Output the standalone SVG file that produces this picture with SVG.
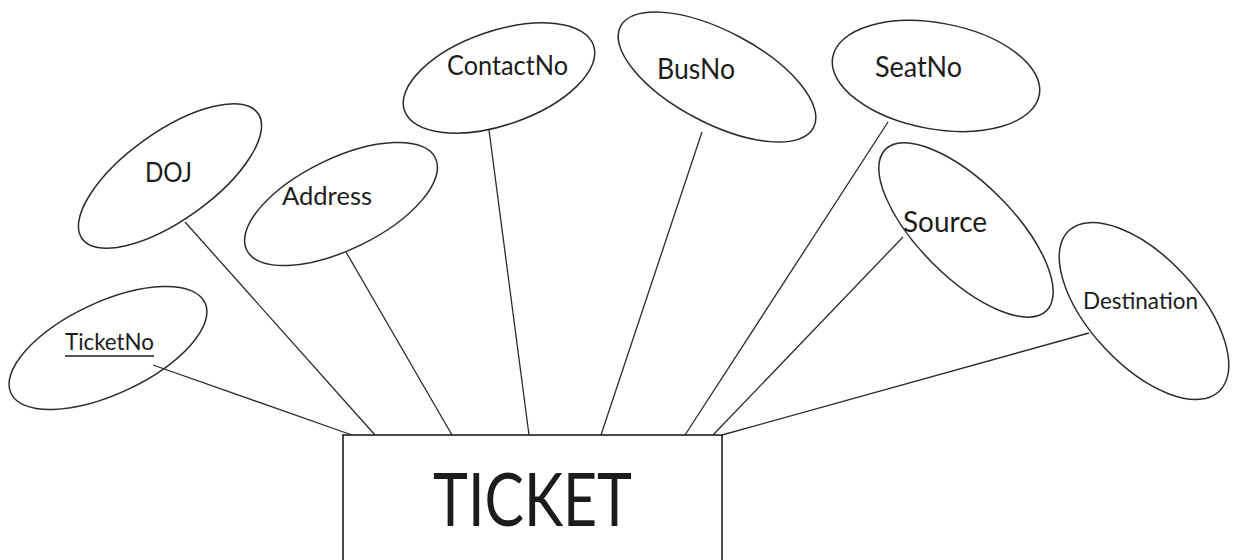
<svg xmlns="http://www.w3.org/2000/svg" width="1235" height="560" viewBox="0 0 1235 560">
<style>
.attr{fill:#ffffff;stroke:#2a2a2a;stroke-width:1.5}
.lbl{font-family:Lato,"Open Sans",sans-serif;fill:#1c1c1c}
.conn line{stroke:#2a2a2a;stroke-width:1.3}
.ent{fill:#ffffff;stroke:#1e1e1e;stroke-width:1.6}
</style>
<rect x="0" y="0" width="1235" height="560" fill="#ffffff"/>
<g id="connectors" class="conn">
<line x1="153" y1="365" x2="352" y2="435"/>
<line x1="185" y1="222" x2="375" y2="435"/>
<line x1="346" y1="252" x2="452" y2="435"/>
<line x1="489" y1="130" x2="529" y2="435"/>
<line x1="702" y1="132" x2="601" y2="435"/>
<line x1="888" y1="122" x2="685" y2="435"/>
<line x1="903" y1="237" x2="713" y2="435"/>
<line x1="1089" y1="333" x2="722" y2="435"/>
</g>
<g id="ticket">
<rect class="ent" x="343" y="435" width="379" height="140"/>
<text class="lbl" x="433" y="526" font-size="73" textLength="199" lengthAdjust="spacingAndGlyphs">TICKET</text>
</g>
<g id="ticketno">
<ellipse class="attr" cx="108" cy="348" rx="107" ry="46" transform="rotate(-25 108 348)" fill-opacity="0"/>
<text class="lbl" x="65" y="350" font-size="23" textLength="89" lengthAdjust="spacingAndGlyphs">TicketNo</text>
<line x1="65" y1="356" x2="154" y2="356" stroke="#1c1c1c" stroke-width="1.5"/>
</g>
<g id="doj">
<ellipse class="attr" cx="170" cy="176" rx="108" ry="44" transform="rotate(-35.5 170 176)"/>
<text class="lbl" x="145" y="182" font-size="26" textLength="47" lengthAdjust="spacingAndGlyphs">DOJ</text>
</g>
<g id="address">
<ellipse class="attr" cx="341" cy="204" rx="105" ry="45.5" transform="rotate(-26 341 204)"/>
<text class="lbl" x="282" y="205" font-size="25" textLength="90" lengthAdjust="spacingAndGlyphs">Address</text>
</g>
<g id="contactno">
<ellipse class="attr" cx="499" cy="78" rx="100" ry="47" transform="rotate(-19 499 78)"/>
<text class="lbl" x="447" y="75" font-size="27" textLength="121" lengthAdjust="spacingAndGlyphs">ContactNo</text>
</g>
<g id="busno">
<ellipse class="attr" cx="717" cy="77" rx="109" ry="46" transform="rotate(27.7 717 77)"/>
<text class="lbl" x="657" y="79" font-size="28" textLength="78" lengthAdjust="spacingAndGlyphs">BusNo</text>
</g>
<g id="seatno">
<ellipse class="attr" cx="936" cy="76" rx="105" ry="53" transform="rotate(10.4 936 76)"/>
<text class="lbl" x="875" y="77" font-size="28" textLength="87" lengthAdjust="spacingAndGlyphs">SeatNo</text>
</g>
<g id="source">
<ellipse class="attr" cx="966" cy="230" rx="114" ry="47" transform="rotate(45 966 230)" fill-opacity="0"/>
<text class="lbl" x="903" y="232" font-size="29" textLength="84" lengthAdjust="spacingAndGlyphs">Source</text>
</g>
<g id="destination">
<ellipse class="attr" cx="1144" cy="311" rx="110" ry="54" transform="rotate(47 1144 311)" fill-opacity="0"/>
<text class="lbl" x="1083" y="309" font-size="24" textLength="115" lengthAdjust="spacingAndGlyphs">Destination</text>
</g>
</svg>
